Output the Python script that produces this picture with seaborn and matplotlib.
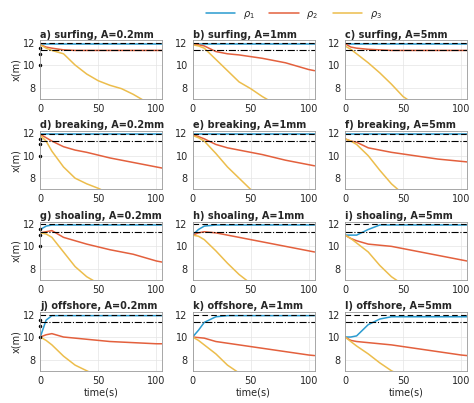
import numpy as np
import pandas as pd
import matplotlib
matplotlib.use("Agg")
import matplotlib.pyplot as plt
import seaborn as sns

T = [0, 5, 10, 20, 30, 40, 50, 60, 70, 80, 90, 100, 105]
TITLES = ["a) surfing, A=0.2mm", "b) surfing, A=1mm", "c) surfing, A=5mm",
          "d) breaking, A=0.2mm", "e) breaking, A=1mm", "f) breaking, A=5mm",
          "g) shoaling, A=0.2mm", "h) shoaling, A=1mm", "i) shoaling, A=5mm",
          "j) offshore, A=0.2mm", "k) offshore, A=1mm", "l) offshore, A=5mm"]
F = 11.9
RHO1 = [
    [F] * 13, [F] * 13, [F] * 13,
    [F] * 13, [F] * 13, [F] * 13,
    [11.5, 11.8, 11.9, F, F, F, F, F, F, F, F, F, F],
    [11.0, 11.5, 11.8, F, F, F, F, F, F, F, F, F, F],
    [11.0, 11.0, 11.0, 11.5, 11.9, F, F, F, F, F, F, F, F],
    [10.0, 11.5, 11.9, F, F, F, F, F, F, F, F, F, F],
    [10.0, 10.6, 11.3, 11.8, F, F, F, F, F, F, F, F, F],
    [10.0, 10.0, 10.1, 11.1, 11.6, 11.8, 11.8, 11.8, 11.8, 11.8, 11.8, 11.8, 11.8],
]
RHO2 = [
    [11.8, 11.6, 11.5, 11.35, 11.3, 11.3, 11.3, 11.3, 11.3, 11.3, 11.3, 11.3, 11.3],
    [11.9, 11.8, 11.7, 11.2, 11.0, 10.9, 10.75, 10.6, 10.4, 10.2, 9.9, 9.6, 9.5],
    [11.9, 11.6, 11.5, 11.4, 11.35, 11.3, 11.3, 11.3, 11.3, 11.3, 11.3, 11.3, 11.3],
    [11.9, 11.6, 11.3, 10.8, 10.5, 10.3, 10.05, 9.8, 9.6, 9.4, 9.2, 9.0, 8.9],
    [11.9, 11.7, 11.5, 11.0, 10.7, 10.5, 10.3, 10.1, 9.85, 9.6, 9.4, 9.2, 9.1],
    [11.5, 11.3, 11.2, 10.7, 10.5, 10.3, 10.15, 10.0, 9.85, 9.7, 9.6, 9.5, 9.45],
    [11.2, 11.3, 11.4, 10.8, 10.5, 10.2, 9.95, 9.7, 9.5, 9.3, 9.0, 8.7, 8.6],
    [11.0, 11.2, 11.3, 11.2, 11.0, 10.8, 10.6, 10.4, 10.2, 10.0, 9.8, 9.6, 9.5],
    [11.0, 10.7, 10.5, 10.2, 10.1, 10.0, 9.8, 9.6, 9.4, 9.2, 9.0, 8.8, 8.7],
    [10.0, 10.2, 10.3, 10.0, 9.9, 9.8, 9.7, 9.6, 9.55, 9.5, 9.45, 9.4, 9.4],
    [10.0, 9.95, 9.9, 9.6, 9.45, 9.3, 9.15, 9.0, 8.85, 8.7, 8.55, 8.4, 8.35],
    [10.0, 9.7, 9.6, 9.5, 9.4, 9.3, 9.15, 9.0, 8.85, 8.7, 8.55, 8.4, 8.35],
]
RHO3 = [
    [11.8, 11.5, 11.3, 11.0, 10.0, 9.2, 8.6, 8.2, 7.9, 7.4, 6.8, 6.3, 6.0],
    [11.8, 11.7, 11.5, 10.5, 9.5, 8.5, 7.9, 7.2, 6.6, 6.0, 5.5, 5.0, 4.8],
    [11.7, 11.4, 11.0, 10.2, 9.3, 8.3, 7.2, 6.5, 6.0, 5.5, 5.0, 4.5, 4.3],
    [11.8, 11.3, 10.4, 9.0, 8.0, 7.5, 7.1, 6.6, 6.2, 5.8, 5.4, 5.0, 4.8],
    [11.8, 11.6, 11.3, 10.2, 9.0, 8.0, 7.0, 6.5, 6.0, 5.5, 5.0, 4.5, 4.3],
    [11.5, 11.3, 11.0, 10.0, 8.7, 7.5, 6.6, 6.0, 5.5, 5.0, 4.5, 4.0, 3.8],
    [11.2, 11.1, 10.8, 9.5, 8.2, 7.3, 6.7, 6.0, 5.5, 5.0, 4.5, 4.0, 3.8],
    [11.0, 10.9, 10.6, 9.6, 8.5, 7.5, 6.7, 6.0, 5.5, 5.0, 4.5, 4.0, 3.8],
    [11.0, 10.7, 10.3, 9.5, 8.3, 7.3, 6.6, 6.0, 5.5, 5.0, 4.5, 4.0, 3.8],
    [10.0, 9.7, 9.3, 8.3, 7.5, 7.0, 6.5, 6.0, 5.5, 5.0, 4.5, 4.0, 3.8],
    [10.0, 9.7, 9.3, 8.5, 7.5, 6.8, 6.3, 6.0, 5.5, 5.0, 4.5, 4.0, 3.8],
    [10.0, 9.6, 9.2, 8.5, 7.7, 7.0, 6.5, 6.0, 5.5, 5.0, 4.5, 4.0, 3.8],
]
DASH_Y = 11.95
DASHDOT_Y = 11.3
COLORS = {"$\\rho_1$": "#2a9bd0", "$\\rho_2$": "#e3603d", "$\\rho_3$": "#ecbd4c"}

sns.set_style("white")
plt.rcParams["font.family"] = ["DejaVu Sans"]
fig, axes = plt.subplots(4, 3, figsize=(4.74, 4.03), dpi=100)

for i, ax in enumerate(axes.flat):
    df = pd.concat([
        pd.DataFrame({"t": T, "x": RHO1[i], "s": "$\\rho_1$"}),
        pd.DataFrame({"t": T, "x": RHO2[i], "s": "$\\rho_2$"}),
        pd.DataFrame({"t": T, "x": RHO3[i], "s": "$\\rho_3$"}),
    ])
    sns.lineplot(data=df, x="t", y="x", hue="s", palette=COLORS, ax=ax,
                 legend=(i == 0), linewidth=1.1)
    ax.axhline(DASH_Y, color="k", ls=(0, (5, 3)), lw=0.8)
    ax.axhline(DASHDOT_Y, color="k", ls="-.", lw=0.8)
    ax.set_xlim(0, 105)
    ax.set_ylim(7, 12.2)
    ax.set_xticks([0, 50, 100])
    ax.set_yticks([8, 10, 12])
    ax.grid(True, color="#e4e4e4", lw=0.5)
    ax.tick_params(labelsize=7, length=2, pad=1.5)
    for s in ax.spines.values():
        s.set_color("#999999")
        s.set_linewidth(0.6)
    ax.set_title(TITLES[i], fontsize=7, fontweight="bold", loc="left", pad=2)
    ax.set_xlabel("time(s)" if i >= 9 else "", fontsize=7, labelpad=1)
    ax.set_ylabel("x(m)" if i % 3 == 0 else "", fontsize=7, labelpad=1)
    if i % 3 == 0:
        ax.plot([0, 0, 0], [11.5, 11.0, 10.0], "k.", ms=3, clip_on=False)

leg = axes.flat[0].get_legend()
handles, labels = axes.flat[0].get_legend_handles_labels()
leg.remove()
fig.legend(handles, labels, loc="upper center", bbox_to_anchor=(0.62, 1.0),
           ncol=3, frameon=False, fontsize=7, handlelength=3, columnspacing=1.5)
fig.subplots_adjust(left=0.085, right=0.985, top=0.9, bottom=0.08,
                    wspace=0.25, hspace=0.55)
fig.savefig("out.png", dpi=100)
